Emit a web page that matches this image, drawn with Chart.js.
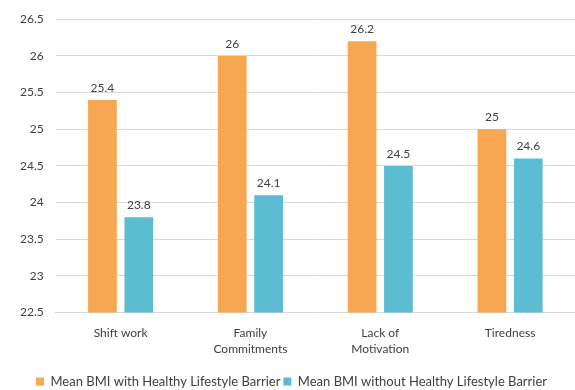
<!DOCTYPE html>
<html>
<head>
<meta charset="utf-8">
<script src="https://cdn.jsdelivr.net/npm/chart.js@4.4.0/dist/chart.umd.min.js"></script>
<style>
  html, body { margin: 0; padding: 0; background: #fff; }
  #wrap { width: 575px; height: 390px; }
</style>
</head>
<body>
<div id="wrap"><canvas id="bmiChart"></canvas></div>
<script>
const categories = [['Shift work'], ['Family', 'Commitments'], ['Lack of', 'Motivation'], ['Tiredness']];
const withBarrier = [25.4, 26, 26.2, 25];
const withoutBarrier = [23.8, 24.1, 24.5, 24.6];
const seriesNames = ['Mean BMI with Healthy Lifestyle Barrier', 'Mean BMI without Healthy Lifestyle Barrier'];

const textColor = '#404040';
const fontFamily = 'Lato, "Open Sans", sans-serif';

// draw the value above each bar
const valueLabels = {
    id: 'valueLabels',
    afterDatasetsDraw(chart) {
        const ctx = chart.ctx;
        ctx.save();
        ctx.fillStyle = textColor;
        ctx.font = '12px ' + fontFamily;
        ctx.textAlign = 'center';
        ctx.textBaseline = 'bottom';
        chart.data.datasets.forEach((ds, i) => {
            chart.getDatasetMeta(i).data.forEach((bar, j) => {
                ctx.fillText(String(ds.data[j]), bar.x, bar.y - 6);
            });
        });
        ctx.restore();
    }
};

new Chart(document.getElementById('bmiChart'), {
    type: 'bar',
    data: {
        labels: categories,
        datasets: [{
            label: seriesNames[0],
            data: withBarrier,
            backgroundColor: '#F7A752',
            barPercentage: 0.79,
            categoryPercentage: 0.56
        }, {
            label: seriesNames[1],
            data: withoutBarrier,
            backgroundColor: '#5BBCD2',
            barPercentage: 0.79,
            categoryPercentage: 0.56
        }]
    },
    options: {
        responsive: true,
        maintainAspectRatio: false,
        animation: false,
        layout: { padding: { top: 11, right: 0, left: 8, bottom: -8 } },
        plugins: {
            legend: {
                position: 'bottom',
                labels: {
                    color: textColor,
                    boxWidth: 8,
                    boxHeight: 8,
                    padding: 3,
                    font: { size: 13, family: fontFamily }
                }
            },
            tooltip: { enabled: false }
        },
        scales: {
            x: {
                grid: { display: false, drawTicks: false },
                border: { color: '#d9d9d9' },
                ticks: {
                    color: textColor,
                    font: { size: 12, family: fontFamily, lineHeight: 1.35 },
                    maxRotation: 0,
                    padding: 12
                },
                afterFit(scale) { scale.height += 3; }
            },
            y: {
                min: 22.5,
                max: 26.5,
                grid: { color: '#d9d9d9', drawTicks: false },
                border: { display: false },
                ticks: {
                    stepSize: 0.5,
                    color: textColor,
                    padding: 12,
                    font: { size: 12, family: fontFamily },
                    callback: v => String(v)
                }
            }
        }
    },
    plugins: [valueLabels]
});
</script>
</body>
</html>
